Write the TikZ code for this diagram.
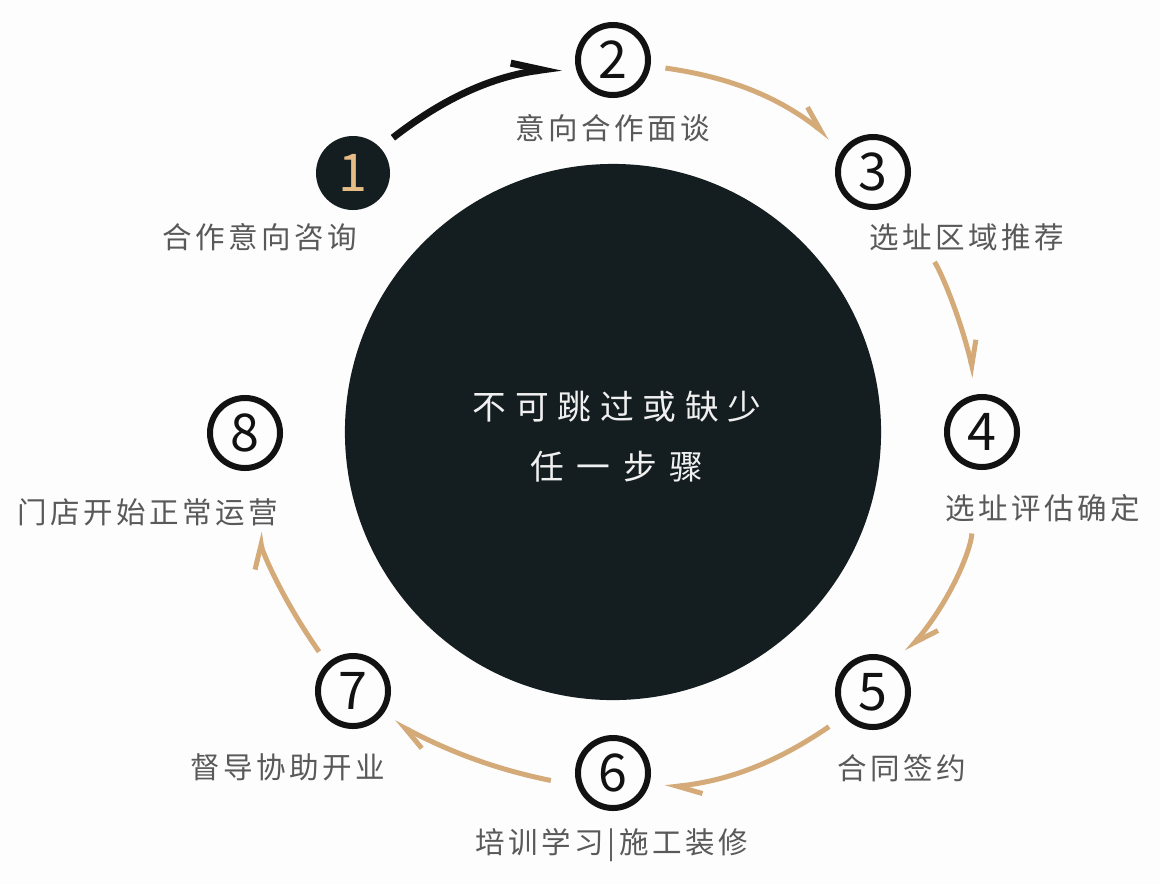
\documentclass[tikz,border=0pt]{standalone}
\usepackage{fontspec}
\setmainfont{Noto Sans CJK SC}
\newfontfamily\labelfont[LetterSpace=12]{Noto Sans CJK SC}
\newfontfamily\mottofont[LetterSpace=26]{Noto Sans CJK SC}
\usetikzlibrary{arrows.meta}
\definecolor{paper}{HTML}{FDFDFD}
\definecolor{coreblack}{HTML}{141D20}
\definecolor{ringblack}{HTML}{121212}
\definecolor{flowtan}{HTML}{D4AB78}
\definecolor{onegold}{HTML}{E6BC86}
\definecolor{labelgray}{HTML}{595959}
\tikzset{
  stepring/.style={circle, draw=ringblack, line width=0.15cm, minimum size=1.75cm, inner sep=0pt,
    font=\fontsize{37}{37}\selectfont, text=ringblack},
  stepdot/.style={circle, fill=coreblack, minimum size=1.85cm, inner sep=0pt,
    font=\fontsize{37}{37}\selectfont, text=onegold},
  steplabel/.style={inner sep=0pt, text=labelgray, font=\labelfont\fontsize{21}{21}\selectfont},
  flow/.style={draw=flowtan, line width=0.125cm, -{Straight Barb[harpoon, length=0.6cm, width=0.5cm]}},
  leadarrow/.style={draw=ringblack, line width=0.175cm, -{Straight Barb[harpoon, length=0.75cm, width=0.55cm]}},
}
\begin{document}
\begin{tikzpicture}[x=0.025cm,y=-0.025cm]
  \fill[paper] (0,0) rectangle (1160,884);
  \useasboundingbox (0,0) rectangle (1160,884);

  \node[circle, fill=coreblack, minimum size=13.4cm, inner sep=0pt] (core) at (613,432) {};
  \node[align=center, text=white!94!black, font=\mottofont\fontsize{24}{42.7}\selectfont] (motto) at (617,437)
    {不可跳过或缺少\\{\addfontfeature{LetterSpace=38}任一步骤}};

  \node[stepdot] (n1) at (353,173) {1};
  \node[stepring] (n2) at (613,60) {2};
  \node[stepring] (n3) at (873,172) {3};
  \node[stepring] (n4) at (982,432) {4};
  \node[stepring] (n5) at (873,692) {5};
  \node[stepring] (n6) at (613,773) {6};
  \node[stepring] (n7) at (353,691) {7};
  \node[stepring] (n8) at (245,433) {8};

  \node[steplabel] (l1) at (260,237) {合作意向咨询};
  \node[steplabel] (l2) at (613,128) {意向合作面谈};
  \node[steplabel] (l3) at (967,237) {选址区域推荐};
  \node[steplabel] (l4) at (1043,508) {选址评估确定};
  \node[steplabel] (l5) at (902,768) {合同签约};
  \node[steplabel] (l6) at (612,845) {培训学习|施工装修};
  \node[steplabel] (l7) at (288,767) {督导协助开业};
  \node[steplabel] (l8) at (148,512) {门店开始正常运营};

  \draw[leadarrow, shorten <=0.4cm, shorten >=0.35cm] (n1.43) to[bend left=15] (n2.188);
  \draw[flow, shorten <=0.375cm, shorten >=0.425cm] (n2.-9) to[bend left=15] (n3.141);
  \draw[flow, shorten <=1.775cm, shorten >=0.425cm] (n3.-54) to[bend left=10] (n4.95);
  \draw[flow, shorten <=1.6cm, shorten >=0.36cm] (n4.262) to[bend left=18] (n5.50);
  \draw[flow, shorten <=0.45cm, shorten >=0.45cm] (n5.220) to[bend left=14] (n6.-26);
  \draw[flow, shorten <=0.675cm, shorten >=0.35cm] (n6.200) to[bend left=8] (n7.-41);
  \draw[flow, shorten <=0.35cm, shorten >=1.55cm] (n7.133) to[bend left=13] (n8.-83);
\end{tikzpicture}
\end{document}
